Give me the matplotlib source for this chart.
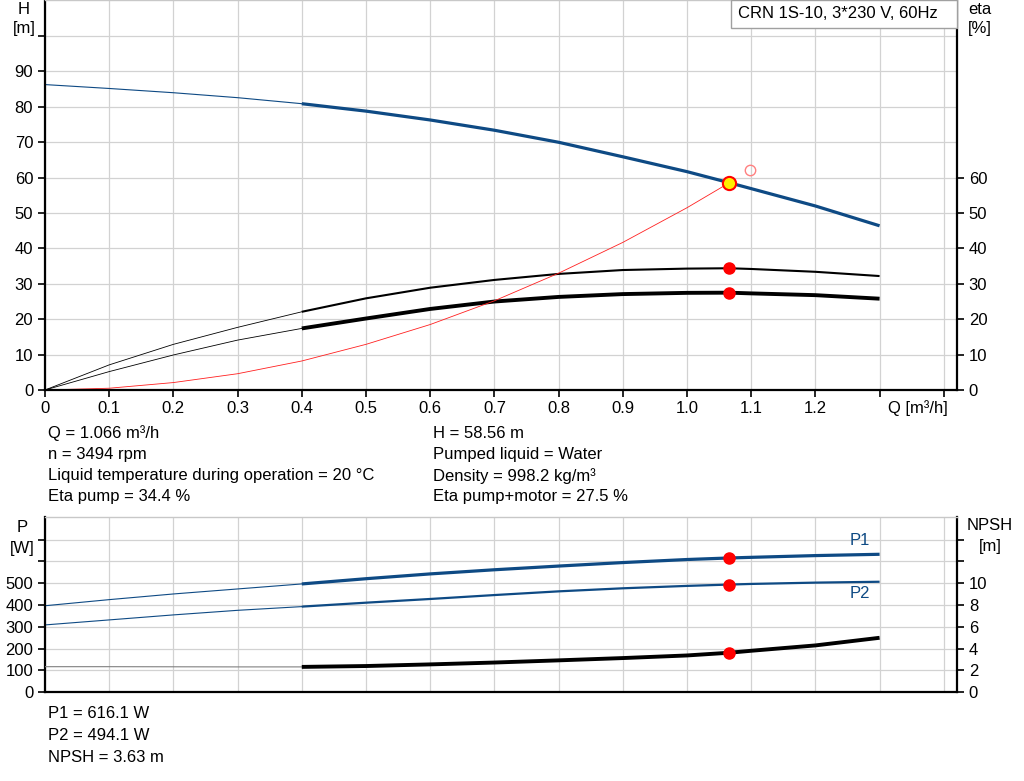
import matplotlib
matplotlib.use('agg')
import matplotlib.pyplot as plt
from matplotlib.patches import Rectangle

plt.rcParams['font.family'] = ['Liberation Sans', 'DejaVu Sans']
plt.rcParams['font.size'] = 12

# ---- data ----
q = [0.0, 0.1, 0.2, 0.3, 0.4, 0.5, 0.6, 0.7, 0.8, 0.9, 1.0, 1.066, 1.1, 1.2, 1.3]
head = [86.3, 85.2, 84.0, 82.6, 80.9, 78.8, 76.3, 73.4, 70.0, 65.9, 61.7, 58.56, 56.9, 52.0, 46.4]
eta_pump = [0.0, 7.1, 12.9, 17.7, 22.1, 25.9, 28.9, 31.1, 32.8, 33.9, 34.3, 34.4, 34.2, 33.4, 32.2]
eta_total = [0.0, 5.2, 9.9, 14.1, 17.4, 20.2, 22.9, 25.0, 26.3, 27.1, 27.45, 27.5, 27.3, 26.8, 25.8]
p1 = [397, 425, 451, 474, 497, 521, 543, 562, 579, 595, 609, 616.1, 619, 627, 633]
p2 = [309, 332, 355, 376, 393, 411, 428, 446, 463, 477, 488, 494.1, 497, 503, 507]
npsh = [2.35, 2.35, 2.34, 2.33, 2.33, 2.41, 2.56, 2.73, 2.93, 3.14, 3.38, 3.63, 3.81, 4.3, 5.0]

q_sys = [0.0, 0.1, 0.2, 0.3, 0.4, 0.5, 0.6, 0.7, 0.8, 0.9, 1.0, 1.066]
h_sys = [0.0, 0.5, 2.1, 4.6, 8.2, 12.9, 18.5, 25.2, 33.0, 41.7, 51.5, 58.56]

q_op = 1.066
h_op = 58.56
eta_pump_op = 34.4
eta_total_op = 27.5
p1_op = 616.1
p2_op = 494.1
npsh_op = 3.63
q_req, h_req = 1.098, 62.3

x_ticks = [0.0, 0.1, 0.2, 0.3, 0.4, 0.5, 0.6, 0.7, 0.8, 0.9, 1.0, 1.1, 1.2, 1.3, 1.4]
x_labels = ['0', '0.1', '0.2', '0.3', '0.4', '0.5', '0.6', '0.7', '0.8', '0.9',
            '1.0', '1.1', '1.2', '', '']

i0 = q.index(0.4)  # thin part below 0.4, thick part from 0.4 on
blue = '#0e4a84'
grid_c = '#d2d2d2'

fig = plt.figure(figsize=(10.24, 7.81), dpi=100)
W, H = 1024.0, 781.0


def style(ax):
    ax.set_xlim(0, 1.4206)
    ax.grid(True, color=grid_c, lw=0.9)
    ax.set_axisbelow(True)
    for s in ['left', 'bottom', 'right']:
        ax.spines[s].set_linewidth(1.6)
        ax.spines[s].set_color('black')
    ax.spines['top'].set_color('#c8c8c8')
    ax.spines['top'].set_linewidth(1.0)
    ax.tick_params(length=5, width=1.2, pad=3.5, labelsize=12)


# ---------------- top chart ----------------
ax = fig.add_axes([45 / W, 1 - 390 / H, 912 / W, 390 / H])
style(ax)
ax.set_ylim(0, 110.2)
ax.set_yticks(range(0, 101, 10))
ax.set_yticklabels([str(v) for v in range(0, 91, 10)] + [''])
ax.set_xticks(x_ticks)
ax.set_xticklabels(x_labels)
ax.tick_params(axis='x', pad=3)

ax.plot(q[:i0 + 1], head[:i0 + 1], color=blue, lw=0.8)
ax.plot(q[i0:], head[i0:], color=blue, lw=2.3, solid_capstyle='butt')
ax.plot(q[:i0 + 1], eta_pump[:i0 + 1], color='black', lw=0.6)
ax.plot(q[i0:], eta_pump[i0:], color='black', lw=1.5, solid_capstyle='butt')
ax.plot(q[:i0 + 1], eta_total[:i0 + 1], color='black', lw=0.6)
ax.plot(q[i0:], eta_total[i0:], color='black', lw=2.8, solid_capstyle='butt')
ax.plot(q_sys, h_sys, color='#ff2020', lw=0.6)

ax.plot([q_op], [eta_pump_op], 'o', color='#ff0000', ms=8, zorder=5)
ax.plot([q_op], [eta_total_op], 'o', color='#ff0000', ms=8, zorder=5)
ax.plot([q_op], [h_op], 'o', mfc='#ffee00', mec='#ff0000', mew=1.5, ms=9.5, zorder=6)
ax.plot([q_req], [h_req], 'o', mfc='none', mec='#ff8080', mew=1.0, ms=7.5, zorder=5)

ax2 = ax.twinx()
ax2.set_ylim(0, 110.2)
ax2.set_yticks(range(0, 61, 10))
for s in ax2.spines.values():
    s.set_visible(False)
ax2.tick_params(length=5, width=1.2, pad=3.5, labelsize=12)

fig.text(888 / W, 1 - 408 / H, 'Q [m³/h]', ha='left', va='center')
fig.text(24 / W, 1 - 9 / H, 'H', ha='center', va='center')
fig.text(24 / W, 1 - 29 / H, '[m]', ha='center', va='center')
fig.text(980 / W, 1 - 10 / H, 'eta', ha='center', va='center')
fig.text(980 / W, 1 - 29 / H, '[%]', ha='center', va='center')

fig.patches.append(Rectangle((731 / W, 1 - 28 / H), 226 / W, 28 / H,
                             transform=fig.transFigure, fc='white',
                             ec='#a0a0a0', lw=1.0, zorder=10))
fig.text(738 / W, 1 - 14 / H, 'CRN 1S-10, 3*230 V, 60Hz', ha='left',
         va='center', zorder=11)

left_info = ['Q = 1.066 m³/h', 'n = 3494 rpm',
             'Liquid temperature during operation = 20 °C', 'Eta pump = 34.4 %']
right_info = ['H = 58.56 m', 'Pumped liquid = Water', 'Density = 998.2 kg/m³',
              'Eta pump+motor = 27.5 %']
for k, (a, b) in enumerate(zip(left_info, right_info)):
    y = 1 - (433 + 21.3 * k) / H
    fig.text(48 / W, y, a, ha='left', va='center')
    fig.text(433 / W, y, b, ha='left', va='center')

# ---------------- bottom chart ----------------
bx = fig.add_axes([45 / W, 1 - 692.3 / H, 912 / W, 175.3 / H])
style(bx)
bx.set_ylim(0, 804)
bx.set_yticks(range(0, 701, 100))
bx.set_yticklabels([str(v) for v in range(0, 501, 100)] + ['', ''])
bx.set_xticks(x_ticks)
bx.tick_params(axis='x', length=0, labelbottom=False)

bx.plot(q[:i0 + 1], p1[:i0 + 1], color=blue, lw=0.8)
bx.plot(q[i0:], p1[i0:], color=blue, lw=2.3, solid_capstyle='butt')
bx.plot(q[:i0 + 1], p2[:i0 + 1], color=blue, lw=0.8)
bx.plot(q[i0:], p2[i0:], color=blue, lw=1.6, solid_capstyle='butt')
bx.plot([q_op], [p1_op], 'o', color='#ff0000', ms=8, zorder=5)
bx.plot([q_op], [p2_op], 'o', color='#ff0000', ms=8, zorder=5)
bx.text(1.254, 694, 'P1', color=blue, ha='left', va='center')
bx.text(1.254, 451, 'P2', color=blue, ha='left', va='center')

bx2 = bx.twinx()
bx2.set_ylim(0, 16.08)
bx2.set_yticks(range(0, 15, 2))
bx2.set_yticklabels([str(v) for v in range(0, 11, 2)] + ['', ''])
for s in bx2.spines.values():
    s.set_visible(False)
bx2.tick_params(length=5, width=1.2, pad=3.5, labelsize=12)
bx2.plot(q[:i0 + 1], npsh[:i0 + 1], color='#808080', lw=0.8)
bx2.plot(q[i0:], npsh[i0:], color='black', lw=2.8, solid_capstyle='butt')
bx2.plot([q_op], [npsh_op], 'o', color='#ff0000', ms=8, zorder=5)

fig.text(22 / W, 1 - 527 / H, 'P', ha='center', va='center')
fig.text(22 / W, 1 - 548 / H, '[W]', ha='center', va='center')
fig.text(990 / W, 1 - 525 / H, 'NPSH', ha='center', va='center')
fig.text(990 / W, 1 - 547 / H, '[m]', ha='center', va='center')

bottom_info = ['P1 = 616.1 W', 'P2 = 494.1 W', 'NPSH = 3.63 m']
for k, t in enumerate(bottom_info):
    fig.text(48 / W, 1 - (713 + 22 * k) / H, t, ha='left', va='center')

fig.savefig('out.png', dpi=100)
